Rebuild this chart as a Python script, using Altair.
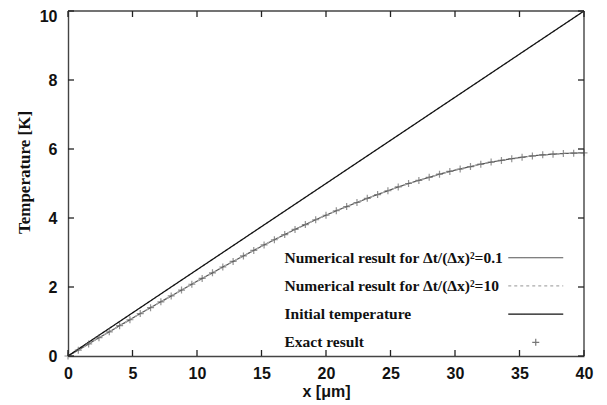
import altair as alt
import pandas as pd

# ---- data ----
x_um = [0.0, 0.8, 1.6, 2.4, 3.2, 4.0, 4.8, 5.6, 6.4, 7.2, 8.0, 8.8, 9.6, 10.4, 11.2,
        12.0, 12.8, 13.6, 14.4, 15.2, 16.0, 16.8, 17.6, 18.4, 19.2, 20.0, 20.8, 21.6,
        22.4, 23.2, 24.0, 24.8, 25.6, 26.4, 27.2, 28.0, 28.8, 29.6, 30.4, 31.2, 32.0,
        32.8, 33.6, 34.4, 35.2, 36.0, 36.8, 37.6, 38.4, 39.2, 40.0]
exact_T = [0.00, 0.17, 0.35, 0.53, 0.70, 0.88, 1.05, 1.23, 1.40, 1.57, 1.74, 1.91,
           2.08, 2.25, 2.41, 2.58, 2.74, 2.90, 3.06, 3.22, 3.37, 3.52, 3.67, 3.81,
           3.95, 4.08, 4.21, 4.33, 4.45, 4.57, 4.68, 4.79, 4.90, 5.00, 5.09, 5.18,
           5.27, 5.35, 5.42, 5.49, 5.56, 5.62, 5.67, 5.72, 5.76, 5.80, 5.83, 5.85,
           5.87, 5.88, 5.89]
num_01_T = list(exact_T)   # numerical curve (dt/dx^2 = 0.1) lies on the exact result
num_10_T = list(exact_T)   # numerical curve (dt/dx^2 = 10) lies on the exact result
init_x = [0.0, 40.0]
init_T = [0.0, 10.0]

series = ["Numerical result for Δt/(Δx)²=0.1",
          "Numerical result for Δt/(Δx)²=10",
          "Initial temperature",
          "Exact result"]
series_colors = ["#555555", "#aaaaaa", "#111111", "#777777"]
series_dash = [[1, 0], [3, 3], [1, 0], [1, 0]]

x_ticks = [0, 5, 10, 15, 20, 25, 30, 35, 40]
y_ticks = [0, 2, 4, 6, 8, 10]
x_max = [40]
y_max = [10]

num01_df = pd.DataFrame({"x": x_um, "T": num_01_T, "series": series[0]})
num10_df = pd.DataFrame({"x": x_um, "T": num_10_T, "series": series[1]})
init_df = pd.DataFrame({"x": init_x, "T": init_T, "series": series[2]})
exact_df = pd.DataFrame({"x": x_um, "T": exact_T})
xt_df = pd.DataFrame({"x": x_ticks})
yt_df = pd.DataFrame({"T": y_ticks})
xmax_df = pd.DataFrame({"x": x_max})
ymax_df = pd.DataFrame({"T": y_max})

W, H = 516, 345
TL = 6  # tick length in px
xscale = alt.Scale(domain=[0, 40], nice=False, zero=False)
yscale = alt.Scale(domain=[0, 10], nice=False, zero=False)

tick_font = "Liberation Sans"
FRAME = "#444444"
TICK = "#222222"

legend = alt.Legend(
    title=None, orient="none", legendX=460, legendY=239, padding=0,
    rowPadding=11.2, labelOffset={"expr": "-259"}, labelAlign="left",
    labelFont="Liberation Serif", labelFontWeight="bold", labelFontSize=15.5,
    labelColor="#111111", labelLimit=400, symbolSize=121, symbolStrokeWidth=1.2,
    symbolOffset=0,
    symbolType={"expr": "datum.label === 'Exact result' ? 'M-0.64,0H0.64M0,-0.64V0.64' : 'M-5,0H5'"},
)
color_enc = alt.Color("series:N", scale=alt.Scale(domain=series, range=series_colors), legend=legend)
dash_enc = alt.StrokeDash("series:N", scale=alt.Scale(domain=series, range=series_dash), legend=legend)

x_axis = alt.Axis(
    orient="bottom", values=x_ticks, title="x [μm]", domain=True, domainColor=FRAME,
    domainWidth=1.4, ticks=False, tickSize=0, grid=False, labelPadding=9,
    labelFont=tick_font, labelFontWeight="bold", labelFontSize=16,
    labelColor="#111111", titleFont=tick_font, titleFontWeight="bold",
    titleFontSize=16, titleColor="#111111", titlePadding=2, labelFlush=False)
y_axis = alt.Axis(
    orient="left", values=y_ticks, title="Temperature [K]", domain=True,
    domainColor=FRAME, domainWidth=1.4, ticks=False, tickSize=0, grid=False,
    labelPadding=11, labelFont=tick_font, labelFontWeight="bold", labelFontSize=16,
    labelColor="#111111",
    labelOffset=alt.condition("datum.value == 10", alt.value(5), alt.value(0)),
    titleFont="Liberation Serif", titleFontWeight="bold", titleFontSize=17,
    titleColor="#111111", titlePadding=6, titleY=161, labelFlush=False)


def X():
    return alt.X("x:Q", scale=xscale, axis=x_axis)


def Y():
    return alt.Y("T:Q", scale=yscale, axis=y_axis)


lay1 = alt.Chart(num01_df).mark_line(strokeWidth=1.2).encode(
    x=X(), y=Y(), color=color_enc, strokeDash=dash_enc)

lay2 = alt.Chart(num10_df).mark_line(strokeWidth=1.2).encode(
    x=X(), y=Y(), color=color_enc, strokeDash=dash_enc)

lay3 = alt.Chart(init_df).mark_line(strokeWidth=1.3).encode(
    x=X(), y=Y(), color=color_enc, strokeDash=dash_enc)

lay4 = alt.Chart(exact_df).mark_point(
    shape="M-1,0H1M0,-1V1", size=49, filled=False, color="#666666", strokeWidth=1.2
).encode(x=X(), y=Y())

# top and right border of the frame, at the axis maxima
right_frame = alt.Chart(xmax_df).mark_rule(color=FRAME, strokeWidth=1.4).encode(
    x=X(), y=alt.value(0), y2=alt.value(H))
top_frame = alt.Chart(ymax_df).mark_rule(color=FRAME, strokeWidth=1.4).encode(
    y=Y(), x=alt.value(0), x2=alt.value(W))

# inward tick marks on all four sides
tick_bottom = alt.Chart(xt_df).mark_rule(color=TICK, strokeWidth=1.3).encode(
    x=X(), y=alt.value(H), y2=alt.value(H - TL))
tick_top = alt.Chart(xt_df).mark_rule(color=TICK, strokeWidth=1.3).encode(
    x=X(), y=alt.value(0), y2=alt.value(TL))
tick_left = alt.Chart(yt_df).mark_rule(color=TICK, strokeWidth=1.3).encode(
    y=Y(), x=alt.value(0), x2=alt.value(TL))
tick_right = alt.Chart(yt_df).mark_rule(color=TICK, strokeWidth=1.3).encode(
    y=Y(), x=alt.value(W), x2=alt.value(W - TL))

chart = alt.layer(
    lay1, lay2, lay3, lay4, right_frame, top_frame,
    tick_bottom, tick_top, tick_left, tick_right,
).properties(
    width=W, height=H,
    autosize=alt.AutoSizeParams(type="none"),
    padding={"left": 60, "top": 3, "right": 12, "bottom": 45},
).configure_view(strokeWidth=0)

chart.save("out.html", embed_options={"renderer": "svg", "actions": False})
